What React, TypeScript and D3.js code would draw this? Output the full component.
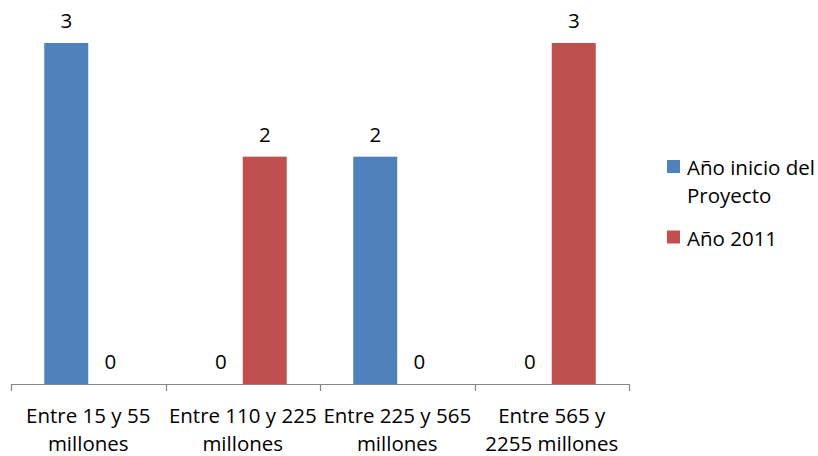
import React from "react";
import * as d3 from "d3";

const categories: string[][] = [
  ["Entre 15 y 55", "millones"],
  ["Entre 110 y 225", "millones"],
  ["Entre 225 y 565", "millones"],
  ["Entre 565 y", "2255 millones"],
];
const seriesNames: string[] = ["Año inicio del Proyecto", "Año 2011"];
const legendLines: string[][] = [["Año inicio del", "Proyecto"], ["Año 2011"]];
const inicio: number[] = [3, 0, 2, 0];
const y2011: number[] = [0, 2, 0, 3];
const colors: string[] = ["#4F81BD", "#C0504D"];

export default function App() {
  const W = 818, H = 456;
  const left = 11, right = 629, top = 43, bottom = 384;
  const font = "'Open Sans', sans-serif";
  const fs = 20.5;

  const x0 = d3.scaleBand<number>().domain(d3.range(categories.length)).range([left, right]).paddingInner(0).paddingOuter(0);
  const x1 = d3.scaleBand<number>().domain([0, 1]).range([0, x0.bandwidth()]).paddingInner(0).paddingOuter(0.756);
  const y = d3.scaleLinear().domain([0, 3]).range([bottom, top]);
  const series = [inicio, y2011];
  const ticks = d3.range(categories.length + 1).map((i) => left + i * x0.step());

  return (
    <svg width={W} height={H} style={{ position: "absolute", left: 0, top: 0 }} fontFamily={font}>
      <rect width={W} height={H} fill="#fff" />
      {series.map((vals, s) =>
        vals.map((v, i) => {
          const bx = (x0(i) as number) + (x1(s) as number);
          const bw = x1.bandwidth();
          return (
            <g key={`${s}-${i}`}>
              {v > 0 && <rect x={bx} y={y(v)} width={bw} height={bottom - y(v)} fill={colors[s]} />}
              <text x={bx + bw / 2} y={y(v) - 15} textAnchor="middle" fontSize={fs} fill="#000">{v}</text>
            </g>
          );
        })
      )}
      <line x1={left} x2={right} y1={bottom + 0.5} y2={bottom + 0.5} stroke="#868686" strokeWidth={1.2} />
      {ticks.map((t, i) => (
        <line key={i} x1={Math.round(t) + 0.5} x2={Math.round(t) + 0.5} y1={bottom} y2={bottom + 7} stroke="#868686" strokeWidth={1.2} />
      ))}
      {categories.map((lines, i) => (
        <text key={i} textAnchor="middle" fontSize={fs} fill="#000">
          {lines.map((l, j) => (
            <tspan key={j} x={(x0(i) as number) + x0.bandwidth() / 2} y={423 + j * 28}>{l}</tspan>
          ))}
        </text>
      ))}
      {legendLines.map((lines, s) => {
        const ly = s === 0 ? 160 : 230.5;
        return (
          <g key={s}>
            <rect x={667} y={ly} width={13} height={13} fill={colors[s]} />
            <text fontSize={fs} fill="#000">
              {lines.map((l, j) => (
                <tspan key={j} x={687} y={ly + 15 + j * 28}>{l}</tspan>
              ))}
            </text>
            <title>{seriesNames[s]}</title>
          </g>
        );
      })}
    </svg>
  );
}
